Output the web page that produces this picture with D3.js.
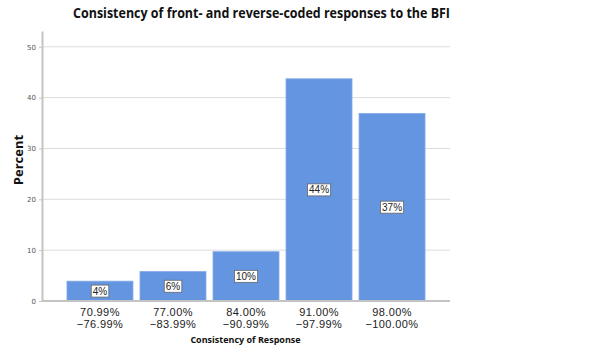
<!DOCTYPE html>
<html>
<head>
<meta charset="utf-8">
<script src="https://cdn.jsdelivr.net/npm/d3@7"></script>
<style>
  body { margin: 0; background: #fff; }
  svg { display: block; font-family: "DejaVu Sans", sans-serif; }
  .grid line { stroke: #dcdcdc; stroke-width: 1; }
  .axis path, .axis line { stroke: #c4c4c4; }
</style>
</head>
<body>
<svg id="chart"></svg>
<script>
// Data
const categories = ['70.99%\n-76.99%', '77.00%\n-83.99%', '84.00%\n-90.99%', '91.00%\n-97.99%', '98.00%\n-100.00%'];
const percents = [3.9, 5.8, 9.7, 43.7, 36.9];
const barLabels = ['4%', '6%', '10%', '44%', '37%'];
const yTicks = [0, 10, 20, 30, 40, 50];

const width = 600, height = 353;
const margin = { top: 31, right: 150, bottom: 52, left: 42 };

const svg = d3.select('#chart')
  .attr('width', width)
  .attr('height', height);

const data = categories.map((c, i) => ({ key: c, value: percents[i], label: barLabels[i] }));

// y domain tops out a bit above 50, axis line runs up to the top margin
const yScale = d3.scaleLinear()
  .domain([0, 53.1])
  .range([height - margin.bottom, margin.top]);

const xScale = d3.scaleBand()
  .domain(categories)
  .range([margin.left, width - margin.right])
  .paddingInner(0.096)
  .paddingOuter(0.342);

// Gridlines
svg.append('g')
  .attr('class', 'grid')
  .selectAll('line')
  .data(yTicks.filter(d => d > 0))
  .join('line')
  .attr('x1', margin.left)
  .attr('x2', width - margin.right)
  .attr('y1', d => yScale(d))
  .attr('y2', d => yScale(d));

// Bars
svg.append('g')
  .selectAll('rect')
  .data(data)
  .join('rect')
  .attr('x', d => xScale(d.key))
  .attr('y', d => yScale(d.value))
  .attr('width', xScale.bandwidth())
  .attr('height', d => yScale(0) - yScale(d.value))
  .attr('fill', '#6395e0')
  .attr('stroke', '#86abe8')
  .attr('stroke-width', 0.8);

// Y axis
const yAxis = d3.axisLeft(yScale)
  .tickValues(yTicks)
  .tickSize(3)
  .tickSizeOuter(0);

const yAxisG = svg.append('g')
  .attr('class', 'axis')
  .attr('transform', `translate(${margin.left},0)`)
  .call(yAxis);
yAxisG.select('.domain').attr('stroke-width', 2);
yAxisG.selectAll('text')
  .attr('font-size', 7)
  .attr('fill', '#555')
  .attr('font-family', 'DejaVu Sans, sans-serif');

// X axis line
svg.append('line')
  .attr('x1', margin.left)
  .attr('x2', width - margin.right)
  .attr('y1', yScale(0))
  .attr('y2', yScale(0))
  .attr('stroke', '#c4c4c4')
  .attr('stroke-width', 2);

// X tick labels (two lines)
svg.append('g')
  .selectAll('text')
  .data(categories)
  .join('text')
  .attr('text-anchor', 'middle')
  .attr('font-size', 11)
  .attr('font-family', 'Liberation Sans, sans-serif')
  .attr('fill', '#222')
  .attr('transform', d => `translate(${xScale(d) + xScale.bandwidth() / 2},${yScale(0) + 14.5})`)
  .selectAll('tspan')
  .data(d => d.split('\n'))
  .join('tspan')
  .attr('x', 0)
  .attr('dy', (d, i) => i === 0 ? 0 : 12.5)
  .attr('letter-spacing', 0.4)
  .text(d => d.replace('-', '\u2212'));

// Value labels in boxes, centred in each bar
const labelG = svg.append('g')
  .selectAll('g')
  .data(data)
  .join('g')
  .attr('transform', d => `translate(${xScale(d.key) + xScale.bandwidth() / 2},${(yScale(0) + yScale(d.value)) / 2})`);

labelG.append('text')
  .attr('text-anchor', 'middle')
  .attr('dy', '0.35em')
  .attr('font-size', 10)
  .attr('font-family', 'Liberation Sans, sans-serif')
  .attr('fill', '#222')
  .text(d => d.label);

labelG.each(function () {
  const g = d3.select(this);
  const bb = g.select('text').node().getBBox();
  g.insert('rect', 'text')
    .attr('x', bb.x - 1.5)
    .attr('y', bb.y - 0.5)
    .attr('width', bb.width + 3)
    .attr('height', bb.height + 1)
    .attr('fill', '#fff')
    .attr('stroke', '#666')
    .attr('stroke-width', 0.8);
});

// Title
svg.append('text')
  .attr('x', 261.5)
  .attr('y', 17.5)
  .attr('text-anchor', 'middle')
  .attr('font-weight', 'bold')
  .attr('font-size', 14.5)
  .attr('font-family', 'Open Sans, sans-serif')
  .attr('textLength', 377)
  .attr('lengthAdjust', 'spacingAndGlyphs')
  .attr('fill', '#111')
  .text('Consistency of front- and reverse-coded responses to the BFI');

// Axis titles
svg.append('text')
  .attr('transform', `translate(23,160) rotate(-90)`)
  .attr('text-anchor', 'middle')
  .attr('font-weight', 'bold')
  .attr('font-size', 13)
  .attr('font-family', 'Open Sans, sans-serif')
  .attr('fill', '#111')
  .text('Percent');

svg.append('text')
  .attr('x', 245.5)
  .attr('y', 343)
  .attr('text-anchor', 'middle')
  .attr('font-weight', 'bold')
  .attr('font-size', 9)
  .attr('font-family', 'Open Sans, sans-serif')
  .attr('fill', '#111')
  .text('Consistency of Response');
</script>
</body>
</html>
